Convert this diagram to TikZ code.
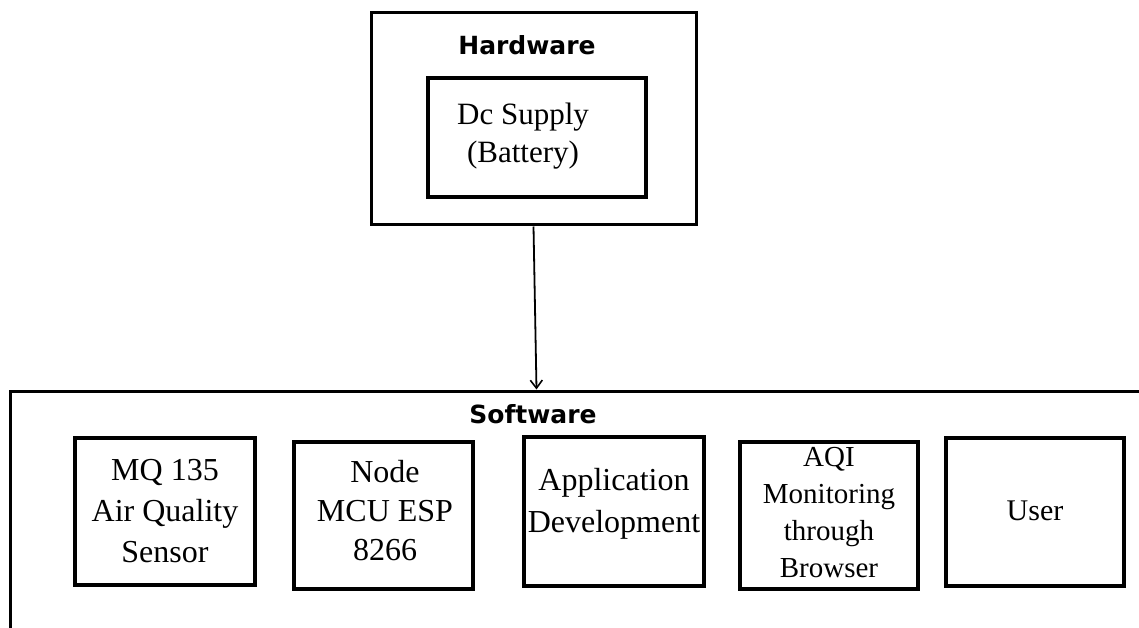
\documentclass[tikz,border=0pt]{standalone}
\usepackage{fontspec}
\setmainfont{Liberation Serif}
\newfontfamily\labelfont{DejaVu Sans}
\usetikzlibrary{arrows.meta}
\begin{document}
\begin{tikzpicture}[x=1pt,y=-1pt,
  frame/.style={draw=black, line width=3pt},
  box/.style={draw=black, line width=3.6pt, inner sep=0pt},
  txt/.style={inner sep=0pt, anchor=base, align=center, font=\fontsize{30}{40}\selectfont},
  title/.style={inner sep=0pt, anchor=base, font=\labelfont\bfseries\fontsize{25}{28}\selectfont},
  conn/.style={line width=1.8pt, -{Straight Barb[length=8pt,width=12pt,line width=1.6pt]}}
]
\useasboundingbox (0,0) rectangle (1139,628);
% Hardware
\node[frame, minimum width=325pt, minimum height=212pt] (hw) at (533.5,119) {};
\node[title] (hwlabel) at (527,55) {Hardware};
\node[box, minimum width=218pt, minimum height=119pt] (dc) at (537,137.5) {};
\node[txt, font=\fontsize{31}{38}\selectfont] (dctext) at (523,163) {Dc Supply\\(Battery)};
% Software frame
\coordinate (swtl) at (10,391);
\coordinate (swbl) at (10,628);
\coordinate (swtr) at (1139,391);
\coordinate (swin) at (536.5,389.5);
\draw[frame] (swbl) -- (swtl) -- (swtr);
\node[title] (swlabel) at (533,423) {Software};
% Arrow
\draw[conn] (hw.south) -- (swin);
% Software boxes
\node[box, minimum width=180pt, minimum height=147pt] (mq) at (165,511.5) {};
\node[txt, font=\fontsize{32}{41}\selectfont] (mqtext) at (165,562) {MQ 135\\Air Quality\\Sensor};
\node[box, minimum width=179pt, minimum height=147pt] (mcu) at (383.5,515.5) {};
\node[txt, font=\fontsize{32}{39}\selectfont] (mcutext) at (385,560) {Node\\MCU ESP\\8266};
\node[box, minimum width=180pt, minimum height=149pt] (app) at (614,511.5) {};
\node[txt, font=\fontsize{32}{42}\selectfont] (apptext) at (614,532) {Application\\Development};
\node[box, minimum width=178pt, minimum height=147pt] (aqi) at (829,515.5) {};
\node[txt, font=\fontsize{29}{37}\selectfont] (aqitext) at (829,577) {AQI\\Monitoring\\through\\Browser};
\node[box, minimum width=178pt, minimum height=148pt] (user) at (1035,512) {};
\node[txt] (usertext) at (1035,520) {User};
\end{tikzpicture}
\end{document}
